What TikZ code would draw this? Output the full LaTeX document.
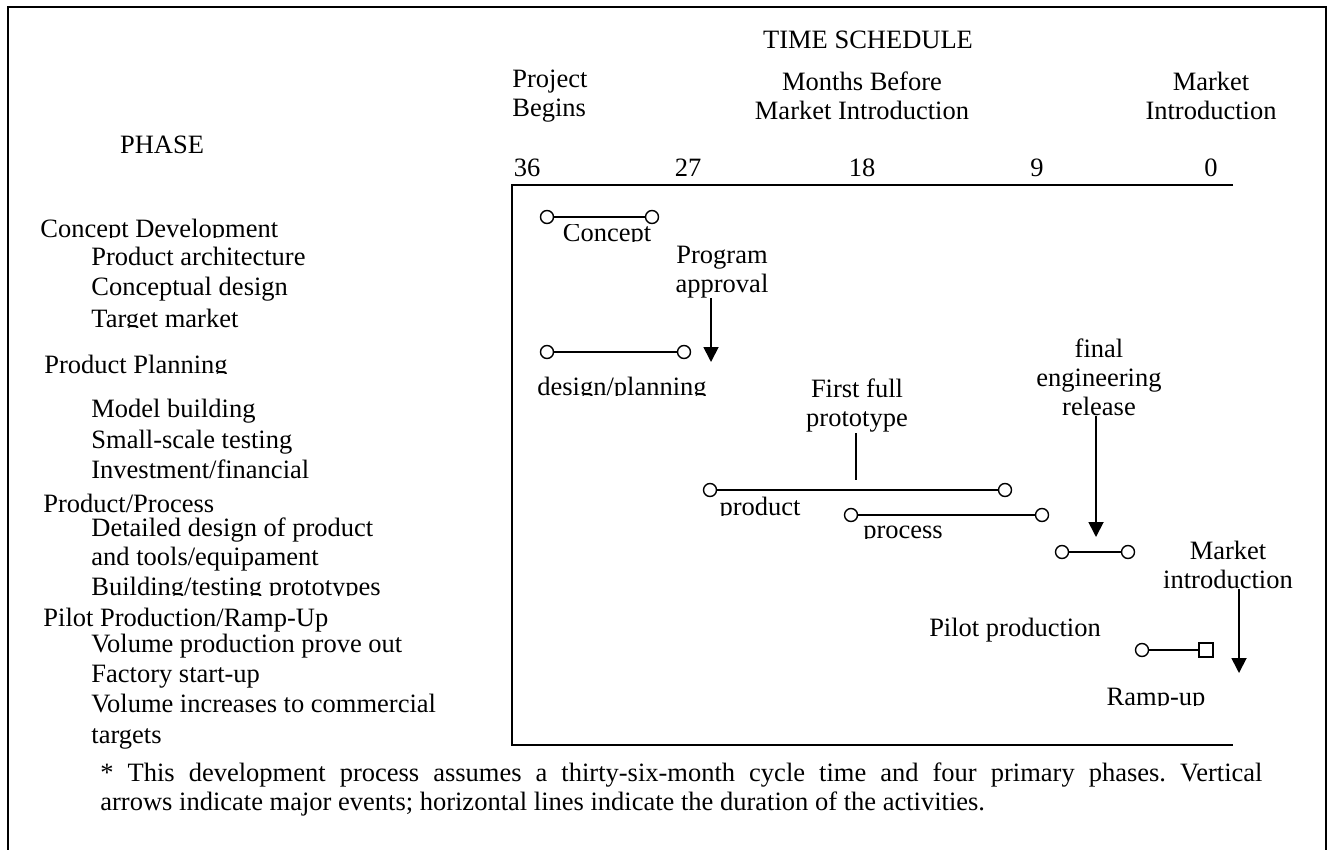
\documentclass[tikz,border=0pt]{standalone}
\usepackage{fontspec}
\setmainfont{Liberation Serif}
\usepackage{trimclip}
\usetikzlibrary{positioning, arrows.meta}

% label with the part below the baseline cut off
\newcommand{\cutlbl}[1]{\clipbox{0pt {\depth} 0pt 0pt}{#1}}

\tikzset{
    lbl/.style={inner sep=0pt, font=\fontsize{13.25}{14.5}\selectfont},
    endpt/.style={circle, draw, line width=0.7pt, fill=white, inner sep=0pt, minimum size=6.5pt},
    endsq/.style={rectangle, draw, line width=0.7pt, fill=white, inner sep=0pt, minimum size=7pt},
    bar/.style={line width=1pt},
    evt/.style={line width=0.9pt, -{Triangle[length=7.5pt, width=7.5pt]}},
    frame/.style={line width=1pt},
}

\begin{document}
\begin{tikzpicture}[x=0.5pt, y=-0.5pt]
    \useasboundingbox (0,0) rectangle (1332,850);

    % frames
    \draw[frame] (8,860) -- (8,7) -- (1326,7) -- (1326,860);
    \draw[frame] (1233,185) -- (512,185) -- (512,745) -- (1233,745);

    % time schedule heading
    \node[lbl] (sched) at (868,40) {TIME SCHEDULE};
    \node[lbl, align=left, anchor=west] (begin) at (512,96) {Project\\Begins};
    \node[lbl, align=center] (months) at (862,96) {Months Before\\Market Introduction};
    \node[lbl, align=center] (intro) at (1211,96) {Market\\Introduction};
    \node[lbl] (phase) at (162,145) {PHASE};

    \node[lbl] (m36) at (527,168) {36};
    \node[lbl] (m27) at (688,168) {27};
    \node[lbl] (m18) at (862,168) {18};
    \node[lbl] (m9) at (1037,168) {9};
    \node[lbl] (m0) at (1211,168) {0};

    % phases
    \node[lbl, anchor=base west] (p1) at (40,237) {\cutlbl{Concept Development}};
    \node[lbl, anchor=base west] (p1a) at (91,265) {Product architecture};
    \node[lbl, anchor=base west] (p1b) at (91,295) {Conceptual design};
    \node[lbl, anchor=base west] (p1c) at (91,327) {\cutlbl{Target market}};
    \node[lbl, anchor=base west] (p2) at (44,373) {\cutlbl{Product Planning}};
    \node[lbl, anchor=base west] (p2a) at (91,417) {Model building};
    \node[lbl, anchor=base west] (p2b) at (91,448) {Small-scale testing};
    \node[lbl, anchor=base west] (p2c) at (91,478) {Investment/financial};
    \node[lbl, anchor=base west] (p3) at (43,512) {Product/Process};
    \node[lbl, anchor=base west] (p3a) at (91,536) {Detailed design of product};
    \node[lbl, anchor=base west] (p3b) at (91,565) {and tools/equipament};
    \node[lbl, anchor=base west] (p3c) at (91,595) {\cutlbl{Building/testing prototypes}};
    \node[lbl, anchor=base west] (p4) at (43,626) {Pilot Production/Ramp-Up};
    \node[lbl, anchor=base west] (p4a) at (91,652) {Volume production prove out};
    \node[lbl, anchor=base west] (p4b) at (91,682) {Factory start-up};
    \node[lbl, anchor=base west] (p4c) at (91,712) {Volume increases to commercial};
    \node[lbl, anchor=base west] (p4d) at (91,743) {targets};

    % activities
    \node[endpt] (ca) at (547,217) {};
    \node[endpt] (cb) at (652,217) {};
    \draw[bar] (ca) -- (cb);
    \node[lbl, anchor=base] (concept) at (607,242) {\cutlbl{Concept}};

    \node[endpt] (da) at (547,352) {};
    \node[endpt] (db) at (684,352) {};
    \draw[bar] (da) -- (db);
    \node[lbl, anchor=base] (design) at (622,395) {\cutlbl{design/planning}};

    \node[endpt] (pa) at (710,490) {};
    \node[endpt] (pb) at (1005,490) {};
    \draw[bar] (pa) -- (pb);
    \node[lbl, anchor=base] (product) at (760,515) {\cutlbl{product}};

    \node[endpt] (ra) at (851,515) {};
    \node[endpt] (rb) at (1042,515) {};
    \draw[bar] (ra) -- (rb);
    \node[lbl, anchor=base] (process) at (903,538) {\cutlbl{process}};

    \node[endpt] (fa) at (1062,552) {};
    \node[endpt] (fb) at (1128,552) {};
    \draw[bar] (fa) -- (fb);

    \node[endpt] (ua) at (1142,650) {};
    \node[endsq] (ub) at (1206,650) {};
    \draw[bar] (ua) -- (ub);
    \node[lbl, anchor=base] (ramp) at (1156,705) {\cutlbl{Ramp-up}};
    \node[lbl] (pilot) at (1015,630) {Pilot production};

    % events
    \node[lbl, align=center] (approv) at (722,272) {Program\\approval};
    \coordinate (approvtip) at (711,362);
    \draw[evt] (approv.south -| approvtip) -- (approvtip);

    \node[lbl, align=center] (proto) at (857,406) {First full\\prototype};
    \coordinate (protoend) at (856,480);
    \draw[line width=0.9pt] (proto.south -| protoend) -- (protoend);

    \node[lbl, align=center] (release) at (1099,377) {final\\engineering\\release};
    \coordinate (releasetip) at (1096,537);
    \draw[evt] (release.south -| releasetip) -- (releasetip);

    \node[lbl, align=center] (market) at (1228,565) {Market\\introduction};
    \coordinate (markettip) at (1239,673);
    \draw[evt] (market.south -| markettip) -- (markettip);

    % note
    \node[lbl, anchor=north west, text width=581pt, align=justify] (note) at (100,762)
        {\frenchspacing * This development process assumes a thirty-six-month cycle time and four primary phases. Vertical\linebreak
        arrows indicate major events; horizontal lines indicate the duration of the activities.};
\end{tikzpicture}
\end{document}
